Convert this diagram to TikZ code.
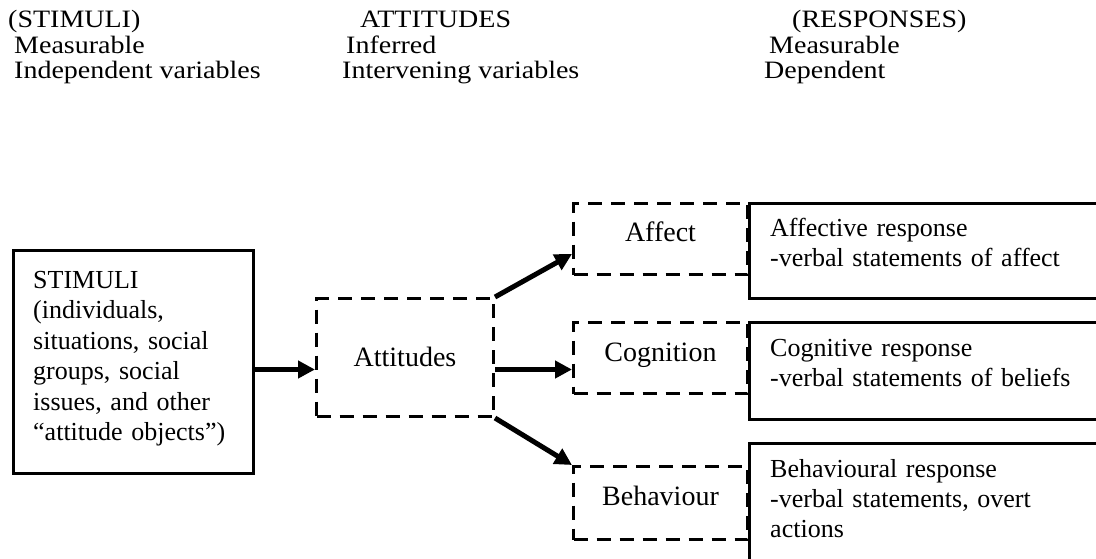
\documentclass[tikz,border=0pt]{standalone}
\usepackage{fontspec}
\setmainfont{Liberation Serif}
\newfontfamily\widefont[FakeStretch=1.12]{Liberation Serif}
\usetikzlibrary{arrows.meta}
\begin{document}
\begin{tikzpicture}[x=1pt,y=-1pt,
  hdr/.style={font=\widefont\fontsize{25}{26}\selectfont, anchor=base west, inner sep=0pt},
  body/.style={font=\fontsize{26}{30.5}\selectfont, anchor=base west, inner sep=0pt, align=left},
  solidbox/.style={draw, line width=3.2pt, anchor=north west},
  dashbox/.style={draw, line width=3pt, dash pattern=on 14pt off 9pt, anchor=north west},
  arr/.style={line width=5pt, -{Triangle[length=17pt,width=17pt]}},
  lbl/.style={font=\fontsize{28}{30}\selectfont, anchor=base, inner sep=0pt}
]
\useasboundingbox (0,0) rectangle (1096,558);
\clip (0,0) rectangle (1096,558);

% column headings
\node[hdr] (h1) at (8,27) {(STIMULI)};
\node[hdr] (h2) at (14,53) {Measurable};
\node[hdr] (h3) at (14,78) {Independent variables};
\node[hdr] (h4) at (360,27) {ATTITUDES};
\node[hdr] (h5) at (346,53) {Inferred};
\node[hdr] (h6) at (342,78) {Intervening variables};
\node[hdr] (h7) at (792,27) {(RESPONSES)};
\node[hdr] (h8) at (769,53) {Measurable};
\node[hdr] (h9) at (764,78) {Dependent};

% stimulus box
\node[solidbox, minimum width=240pt, minimum height=223pt] (stim) at (12,249) {};
\node[body, text width=215pt] (stimt) at (33,288)
  {STIMULI\\(individuals,\\situations, social\\groups, social\\issues, and other\\``attitude objects'')};

% latent attitude and its three components
\node[dashbox, minimum width=177pt, minimum height=118pt] (att) at (315,297) {};
\node[lbl] (attl) at ([yshift=-9pt]att.center) {Attitudes};
\node[dashbox, minimum width=174pt, minimum height=71pt] (aff) at (572,202) {};
\node[dashbox, minimum width=174pt, minimum height=71pt] (cog) at (572,321) {};
\node[dashbox, minimum width=174pt, minimum height=73pt] (beh) at (572,465) {};
\node[lbl] (affl) at ([yshift=-39pt]aff.north) {Affect};
\node[lbl] (cogl) at ([yshift=-40pt]cog.north) {Cognition};
\node[lbl] (behl) at ([yshift=-40pt]beh.north) {Behaviour};

% observable responses
\node[solidbox, minimum width=400pt, minimum height=95pt] (raff) at (748,202) {};
\node[solidbox, minimum width=400pt, minimum height=97pt] (rcog) at (748,321) {};
\node[solidbox, minimum width=400pt, minimum height=140pt] (rbeh) at (748,442) {};
\node[body, text width=320pt] (rafft) at (770,236)
  {Affective response\\-verbal statements of affect};
\node[body, text width=320pt] (rcogt) at (770,356)
  {Cognitive response\\-verbal statements of beliefs};
\node[body, text width=320pt, font=\fontsize{26}{30}\selectfont] (rbeht) at (770,477)
  {Behavioural response\\-verbal statements, overt\\actions};

% connectors
\coordinate (mid) at ([yshift=-12pt]att.west);
\coordinate (midr) at ([yshift=-12pt]att.east);
\draw[arr] (stim.east |- mid) -- (mid);
\draw[arr] (att.north east) -- ([yshift=-15pt]aff.west);
\draw[arr] (midr) -- (midr -| cog.west);
\draw[arr] (att.south east) -- (beh.north west);
\end{tikzpicture}
\end{document}
